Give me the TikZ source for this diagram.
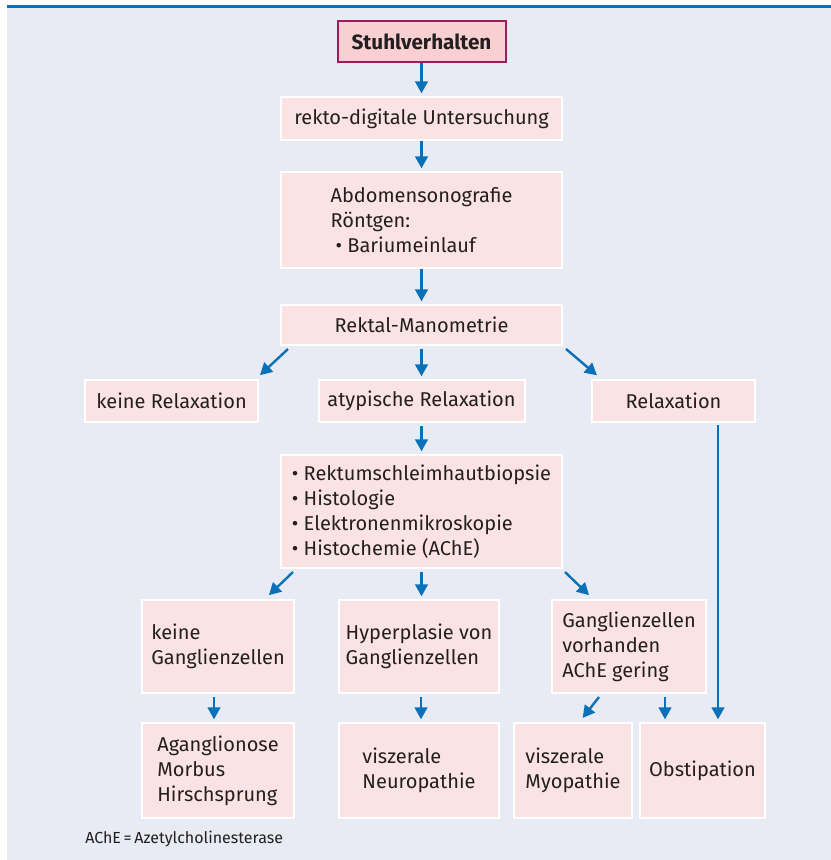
\documentclass[tikz,border=0pt]{standalone}
\usepackage{fontspec}
\setmainfont{Fira Sans}
\usetikzlibrary{arrows.meta,calc}
\definecolor{bgc}{HTML}{E8EBF4}
\definecolor{boxc}{HTML}{FCE3E3}
\definecolor{topc}{HTML}{F9D0D2}
\definecolor{crim}{HTML}{A3195B}
\definecolor{arr}{HTML}{0A71B8}
\definecolor{txt}{HTML}{231F20}
\tikzset{
  box/.style={draw=white, line width=1.5pt, fill=boxc, inner sep=0pt, text=txt,
    font=\fontsize{15}{18.75}\selectfont},
  topbox/.style={draw=crim, fill=topc, font=\fontsize{15.5}{18.75}\selectfont\bfseries},
  bx/.style 2 args={minimum width=#1*0.75pt, minimum height=#2*0.75pt},
  arrowline/.style={draw=arr, line width=1.8pt, shorten >=2pt,
    -{Triangle[length=9pt,width=9.5pt]}},
}
\begin{document}
\begin{tikzpicture}[x=0.75pt,y=-0.75pt]
\useasboundingbox (0,0) rectangle (831,860);
\fill[bgc] (7,5) rectangle (831,860);
\fill[arr] (7,4.5) rectangle (831,7.5);

\node[box,topbox,bx={168}{41}] (stuhl) at (421.5,41.5) {Stuhlverhalten};
\node[box,bx={281}{43}] (rekto) at (421.5,118.5) {rekto-digitale Untersuchung};
\node[box,bx={281}{96},align=left] (abdo) at (421.5,220) {Abdomensonografie\\R\"ontgen:\\\hspace{0.25em}\textbullet\ Bariumeinlauf};
\node[box,bx={281}{40}] (mano) at (421.5,325) {Rektal-Manometrie};

\node[box,bx={173}{42}] (keineR) at (171.5,401) {keine Relaxation};
\node[box,bx={206}{42}] (atyp) at (421.5,401) {atypische Relaxation};
\node[box,bx={163}{42}] (relax) at (673.5,401) {Relaxation};

\node[box,bx={281}{113},align=left] (bio) at (421.5,511.5) {\textbullet\ Rektumschleimhautbiopsie\\\textbullet\ Histologie\\\textbullet\ Elektronenmikroskopie\\\textbullet\ Histochemie (AChE)};

\node[box,bx={152}{93},align=left] (keineG) at (218,646.5) {keine\\Ganglienzellen};
\node[box,bx={160}{93},align=left] (hyper) at (419,646.5) {Hyperplasie von\\Ganglienzellen};
\node[box,bx={154}{93},align=left] (gangV) at (629,646.5) {Ganglienzellen\\vorhanden\\AChE gering};

\node[box,bx={152}{95},align=left] (agang) at (218,770.5) {Aganglionose\\Morbus\\Hirschsprung};
\node[box,bx={160}{95},align=left] (neuro) at (419,770.5) {viszerale\\Neuropathie};
\node[box,bx={118}{95},align=left] (myo) at (573,770.5) {viszerale\\Myopathie};
\node[box,bx={125}{95}] (obst) at (702.5,770.5) {Obstipation};

\node[anchor=west, inner sep=0pt, text=txt, font=\fontsize{12}{14}\selectfont] (foot) at (85,839) {AChE\,=\,Azetylcholinesterase};

\draw[arrowline] (stuhl.south) -- (rekto.north);
\draw[arrowline] (rekto.south) -- (abdo.north);
\draw[arrowline] (abdo.south) -- (mano.north);
\draw[arrowline] ([xshift=8*0.75pt,yshift=-3*0.75pt]mano.south west) -- ([xshift=-1*0.75pt,yshift=2*0.75pt]keineR.north east);
\draw[arrowline] ([yshift=-3*0.75pt]mano.south) -- (atyp.north);
\draw[arrowline] ([xshift=3*0.75pt,yshift=-3*0.75pt]mano.south east) -- ([xshift=8*0.75pt,yshift=2*0.75pt]relax.north west);
\draw[arrowline] ([yshift=-3*0.75pt]atyp.south) -- (bio.north);
\draw[arrowline] ([xshift=13*0.75pt,yshift=-3*0.75pt]bio.south west) -- ([xshift=-28*0.75pt,yshift=2*0.75pt]keineG.north east);
\draw[arrowline] ([yshift=-3*0.75pt]bio.south) -- (bio.south |- hyper.north);
\draw[arrowline] ([xshift=2*0.75pt,yshift=-3*0.75pt]bio.south east) -- ([xshift=40*0.75pt,yshift=2*0.75pt]gangV.north west);
\draw[arrowline] ([xshift=-4*0.75pt,yshift=-3*0.75pt]keineG.south) -- ([xshift=-4*0.75pt]agang.north);
\draw[arrowline] ([xshift=2*0.75pt,yshift=-3*0.75pt]hyper.south) -- ([xshift=2*0.75pt]neuro.north);
\draw[arrowline] ([xshift=48*0.75pt,yshift=-3*0.75pt]gangV.south west) -- ([xshift=8*0.75pt,yshift=2*0.75pt]myo.north);
\draw[arrowline] ([xshift=36*0.75pt,yshift=-3*0.75pt]gangV.south) -- ([xshift=-37.5*0.75pt]obst.north);
\draw[arrowline] ([xshift=44.5*0.75pt,yshift=-2*0.75pt]relax.south) -- ([xshift=15.5*0.75pt]obst.north);
\end{tikzpicture}
\end{document}
